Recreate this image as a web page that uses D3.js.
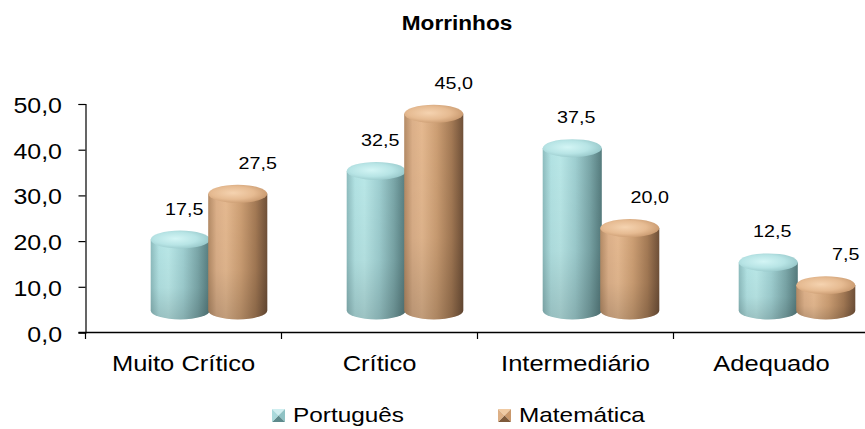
<!DOCTYPE html>
<html>
<head>
<meta charset="utf-8">
<script src="https://cdn.jsdelivr.net/npm/d3@7/dist/d3.min.js"></script>
<style>
  html, body { margin: 0; padding: 0; background: #ffffff; }
  svg { display: block; }
  text { font-family: "Liberation Sans", Arial, sans-serif; fill: #000; }
</style>
</head>
<body>
<svg id="chart" width="865" height="429"></svg>
<script>
// Proficiency levels and the share (%) of students per level, by subject
const title = "Morrinhos";
const categories = ["Muito Crítico", "Crítico", "Intermediário", "Adequado"];
const seriesNames = ["Português", "Matemática"];
const portugues = [17.5, 32.5, 37.5, 12.5];
const matematica = [27.5, 45.0, 20.0, 7.5];
const yTicks = [0, 10, 20, 30, 40, 50];

const W = 865, H = 429;
const STRETCH = 1.16;           // wide rendering of the chart text
const svg = d3.select("#chart");
const defs = svg.append("defs");

const fmt = d => d.toFixed(1).replace(".", ",");

// Scales
const x = d3.scaleBand().domain(categories).range([85.5, 869.5]).padding(0);
const inner = d3.scaleBand().domain(seriesNames).range([66, 181]).padding(0);
const y = d3.scaleLinear().domain([0, 50]).range([332.5, 104]);

const rows = categories.map((c, i) => ({ cat: c, values: [portugues[i], matematica[i]] }));

// Gradients for the two cylinder colours
const palettes = {
  "Português": {
    body: [["0%", "#8dbcbe"], ["14%", "#b2e2e3"], ["30%", "#b9e7e7"], ["55%", "#9fcfd1"], ["80%", "#7aa6a8"], ["100%", "#557b7d"]],
    top: ["#d3f5f5", "#b7e4e5", "#98c8ca"],
    swatch: ["#cfeef0", "#8fc2c4", "#5d8a8c", "#a9d9db"]
  },
  "Matemática": {
    body: [["0%", "#b48b66"], ["14%", "#dcb089"], ["30%", "#e5b990"], ["55%", "#cd9f74"], ["80%", "#a47a55"], ["100%", "#6f5038"]],
    top: ["#f5d3b0", "#e6bb92", "#c99a70"],
    swatch: ["#f0caa3", "#c9986c", "#7e5a3b", "#ddb086"]
  }
};

seriesNames.forEach((s, si) => {
  const p = palettes[s];
  const lg = defs.append("linearGradient").attr("id", "body" + si)
    .attr("x1", "0%").attr("x2", "100%").attr("y1", "0%").attr("y2", "0%");
  p.body.forEach(([o, c]) => lg.append("stop").attr("offset", o).attr("stop-color", c));

  const rg = defs.append("radialGradient").attr("id", "top" + si)
    .attr("cx", "42%").attr("cy", "45%").attr("r", "60%");
  rg.append("stop").attr("offset", "0%").attr("stop-color", p.top[0]);
  rg.append("stop").attr("offset", "60%").attr("stop-color", p.top[1]);
  rg.append("stop").attr("offset", "100%").attr("stop-color", p.top[2]);
});

// subtle darkening toward the base of each cylinder
const shade = defs.append("linearGradient").attr("id", "shade")
  .attr("x1", "0%").attr("x2", "0%").attr("y1", "0%").attr("y2", "100%");
shade.append("stop").attr("offset", "0%").attr("stop-color", "#000").attr("stop-opacity", 0);
shade.append("stop").attr("offset", "60%").attr("stop-color", "#000").attr("stop-opacity", 0.04);
shade.append("stop").attr("offset", "100%").attr("stop-color", "#000").attr("stop-opacity", 0.16);

function stretchedText(sel, tx, ty) {
  return sel.attr("transform", `translate(${tx},${ty}) scale(${STRETCH},1)`).attr("x", 0).attr("y", 0);
}

// Title
stretchedText(svg.append("text"), 457, 30)
  .attr("text-anchor", "middle")
  .attr("font-weight", "bold")
  .attr("font-size", 19.5)
  .text(title);

// Y axis
const yAxis = d3.axisLeft(y).tickValues(yTicks).tickSize(7).tickFormat(fmt);
const gy = svg.append("g").attr("transform", "translate(85.5,0)").call(yAxis);
gy.select(".domain").attr("stroke", "#000").attr("stroke-width", 1.2);
gy.selectAll(".tick line").attr("stroke", "#000").attr("stroke-width", 1.2);
gy.selectAll(".tick text")
  .attr("font-family", "Liberation Sans, Arial, sans-serif")
  .attr("font-size", 21.5)
  .attr("fill", "#000")
  .attr("text-anchor", "end")
  .attr("dy", null)
  .attr("x", 0).attr("y", 0)
  .attr("transform", `translate(-23.5,8.5) scale(${STRETCH},1)`);

// X axis: baseline, boundary ticks and centred category names
const gx = svg.append("g");
gx.append("line")
  .attr("x1", 78.5).attr("x2", x.range()[1])
  .attr("y1", y(0)).attr("y2", y(0))
  .attr("stroke", "#000").attr("stroke-width", 1.4);
const bounds = categories.map(c => x(c)).concat([x.range()[1]]);
gx.selectAll("line.bound").data(bounds).join("line")
  .attr("class", "bound")
  .attr("x1", d => d).attr("x2", d => d)
  .attr("y1", y(0)).attr("y2", y(0) + 6.5)
  .attr("stroke", "#000").attr("stroke-width", 1.2);
gx.selectAll("text.cat").data(categories).join("text")
  .attr("class", "cat")
  .attr("text-anchor", "middle")
  .attr("font-size", 22)
  .each(function (d) {
    stretchedText(d3.select(this), x(d) + x.bandwidth() / 2, 371);
  })
  .text(d => d);

// Cylinders
const ry = 9;
const baseY = y(0) - 22;
function cylinderGeom(cat, s, v) {
  const cx = x(cat) + inner(s) + inner.bandwidth() / 2;
  const rx = inner.bandwidth() / 2 + 0.8;
  const topY = y(v) - 13;
  return { cx, rx, topY };
}

const gBars = svg.append("g");
rows.forEach(r => {
  seriesNames.forEach((s, si) => {
    const v = r.values[si];
    const g = cylinderGeom(r.cat, s, v);
    const path = `M${g.cx - g.rx},${g.topY} L${g.cx - g.rx},${baseY} ` +
      `A${g.rx},${ry} 0 0 0 ${g.cx + g.rx},${baseY} L${g.cx + g.rx},${g.topY} Z`;
    const cg = gBars.append("g");
    cg.append("path").attr("d", path).attr("fill", `url(#body${si})`);
    cg.append("path").attr("d", path).attr("fill", "url(#shade)");
    cg.append("ellipse")
      .attr("cx", g.cx).attr("cy", g.topY)
      .attr("rx", g.rx).attr("ry", ry)
      .attr("fill", `url(#top${si})`);
  });
});

// Value labels above each cylinder
const labelShift = { "Português": 4, "Matemática": 20 };
rows.forEach(r => {
  seriesNames.forEach((s, si) => {
    const v = r.values[si];
    const g = cylinderGeom(r.cat, s, v);
    stretchedText(svg.append("text"), g.cx + labelShift[s], g.topY - ry - 16)
      .attr("text-anchor", "middle")
      .attr("font-size", 17)
      .text(fmt(v));
  });
});

// Legend
const legendX = { "Português": 272, "Matemática": 498 };
seriesNames.forEach((s, si) => {
  const p = palettes[s].swatch;
  const lx = legendX[s], ly = 409, sz = 13;
  const cxm = lx + sz / 2, cym = ly + sz / 2;
  const lg = svg.append("g");
  const tri = [
    [[lx, ly], [lx + sz, ly], [cxm, cym]],             // top
    [[lx + sz, ly], [lx + sz, ly + sz], [cxm, cym]],   // right
    [[lx, ly + sz], [lx + sz, ly + sz], [cxm, cym]],   // bottom
    [[lx, ly], [lx, ly + sz], [cxm, cym]]              // left
  ];
  lg.selectAll("path").data(tri).join("path")
    .attr("d", d => "M" + d.map(q => q.join(",")).join("L") + "Z")
    .attr("fill", (d, i) => p[i]);
  stretchedText(lg.append("text"), lx + 21, 422)
    .attr("font-size", 21)
    .text(s);
});
</script>
</body>
</html>
